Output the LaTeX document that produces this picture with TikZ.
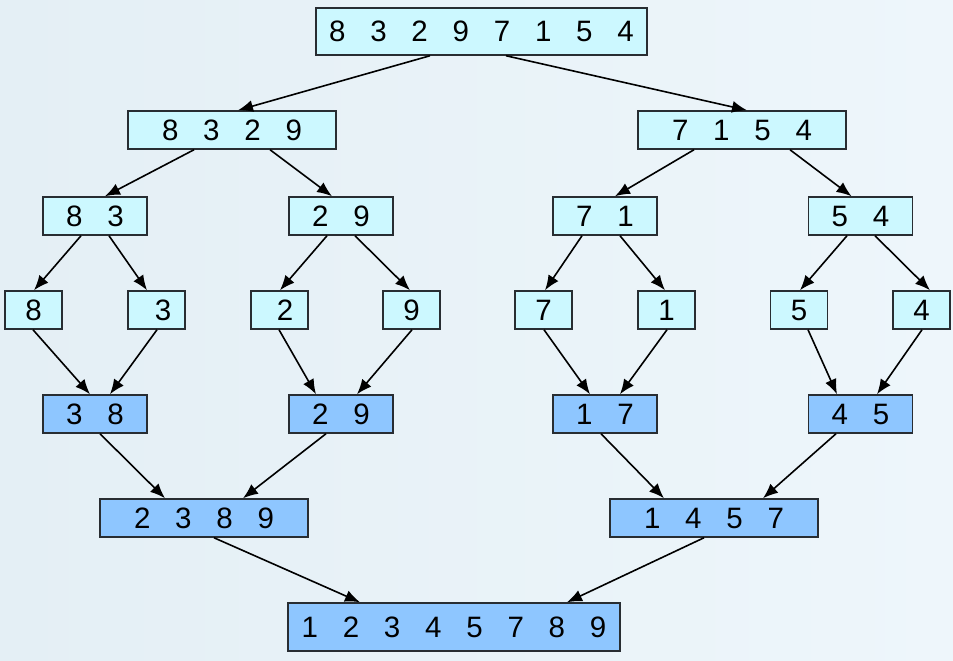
\documentclass[tikz,border=0pt]{standalone}
\usepackage{fontspec}
\setmainfont{Liberation Sans}
\usepackage{xcolor}
\usetikzlibrary{calc,arrows.meta}
\definecolor{bgblue}{RGB}{238,246,251}
\definecolor{bgdeep}{RGB}{228,239,245}
\definecolor{splitfill}{RGB}{204,248,255}
\definecolor{mergefill}{RGB}{142,198,255}
\definecolor{boxline}{RGB}{40,45,50}
\newcommand\dgap{\hspace{0.84em}}
\tikzset{
  box/.style={draw=boxline, line width=1.5pt, inner sep=0pt, minimum height=38pt,
    font=\fontsize{29.5}{33}\selectfont},
  split/.style={box, fill=splitfill},
  merged/.style={box, fill=mergefill},
  wide/.style={minimum width=331pt, minimum height=47pt},
  mid/.style={minimum width=208pt},
  pair/.style={minimum width=104pt},
  leaf/.style={minimum width=57pt},
  arr/.style={line width=1.6pt, -{Latex[length=15pt,width=12pt]}}
}
\begin{document}
\begin{tikzpicture}[x=1pt, y=-1pt]
%background
\shade[left color=bgdeep, right color=bgblue] (0,0) rectangle (953,661);
\useasboundingbox (0,0) rectangle (953,661);
%split
\node[split, wide] (root) at (481.5,31.5) {8\dgap 3\dgap 2\dgap 9\dgap 7\dgap 1\dgap 5\dgap 4};
\node[split, mid] (L) at (232,130) {8\dgap 3\dgap 2\dgap 9};
\node[split, mid] (R) at (742,130) {7\dgap 1\dgap 5\dgap 4};
\node[split, pair] (LL) at (95,216) {8\dgap 3};
\node[split, pair] (LR) at (341,216) {2\dgap 9};
\node[split, pair] (RL) at (605,216) {7\dgap 1};
\node[split, pair] (RR) at (860.5,216) {5\dgap 4};
\node[split, leaf] (l1) at (33.5,310) {8};
\node[split, leaf] (l2) at (156.5,310) {\hspace{13pt}3};
\node[split, leaf] (l3) at (279.5,310) {\hspace{11pt}2};
\node[split, leaf] (l4) at (411.5,310) {9};
\node[split, leaf] (l5) at (543.5,310) {7};
\node[split, leaf] (l6) at (666.5,310) {1};
\node[split, leaf] (l7) at (799,310) {5};
\node[split, leaf] (l8) at (921.5,310) {4};
%merge
\node[merged, pair] (m1) at (95,414) {3\dgap 8};
\node[merged, pair] (m2) at (341,414) {2\dgap 9};
\node[merged, pair] (m3) at (605,414) {1\dgap 7};
\node[merged, pair] (m4) at (860.5,414) {4\dgap 5};
\node[merged, mid] (M1) at (204,518) {2\dgap 3\dgap 8\dgap 9};
\node[merged, mid] (M2) at (714,518) {1\dgap 4\dgap 5\dgap 7};
\node[merged, wide, minimum width=332pt, minimum height=48pt] (sorted) at (454,627)
  {1\dgap 2\dgap 3\dgap 4\dgap 5\dgap 7\dgap 8\dgap 9};
%arrows
\foreach \a/\da/\b/\db in {root/-51.5/L/6, root/24.5/R/5,
    L/-38/LL/10, L/38/LR/-9, R/-48/RL/10, R/48/RR/-9,
    LL/-14/l1/0.5, LL/14/l2/-9.5, LR/-14/l3/0.5, LR/14/l4/-1.5,
    RL/-23/l5/1.5, RL/15/l6/-1.5, RR/-13.5/l7/1, RR/14.5/l8/8.5,
    l1/-0.5/m1/-5, l2/0.5/m1/15, l3/-0.5/m2/-25, l4/0.5/m2/16,
    l5/0.5/m3/-15, l6/0.5/m3/15, l7/9/m4/-23.5, l8/0.5/m4/16.5,
    m1/5/M1/-39, m2/-15/M1/39, m3/-4/M2/-50, m4/-24.5/M2/49,
    M1/10/sorted/-94, M2/-10/sorted/113}
  \draw[arr] ($(\a.south)+(\da,0)$) -- ($(\b.north)+(\db,0)$);
\end{tikzpicture}
\end{document}
